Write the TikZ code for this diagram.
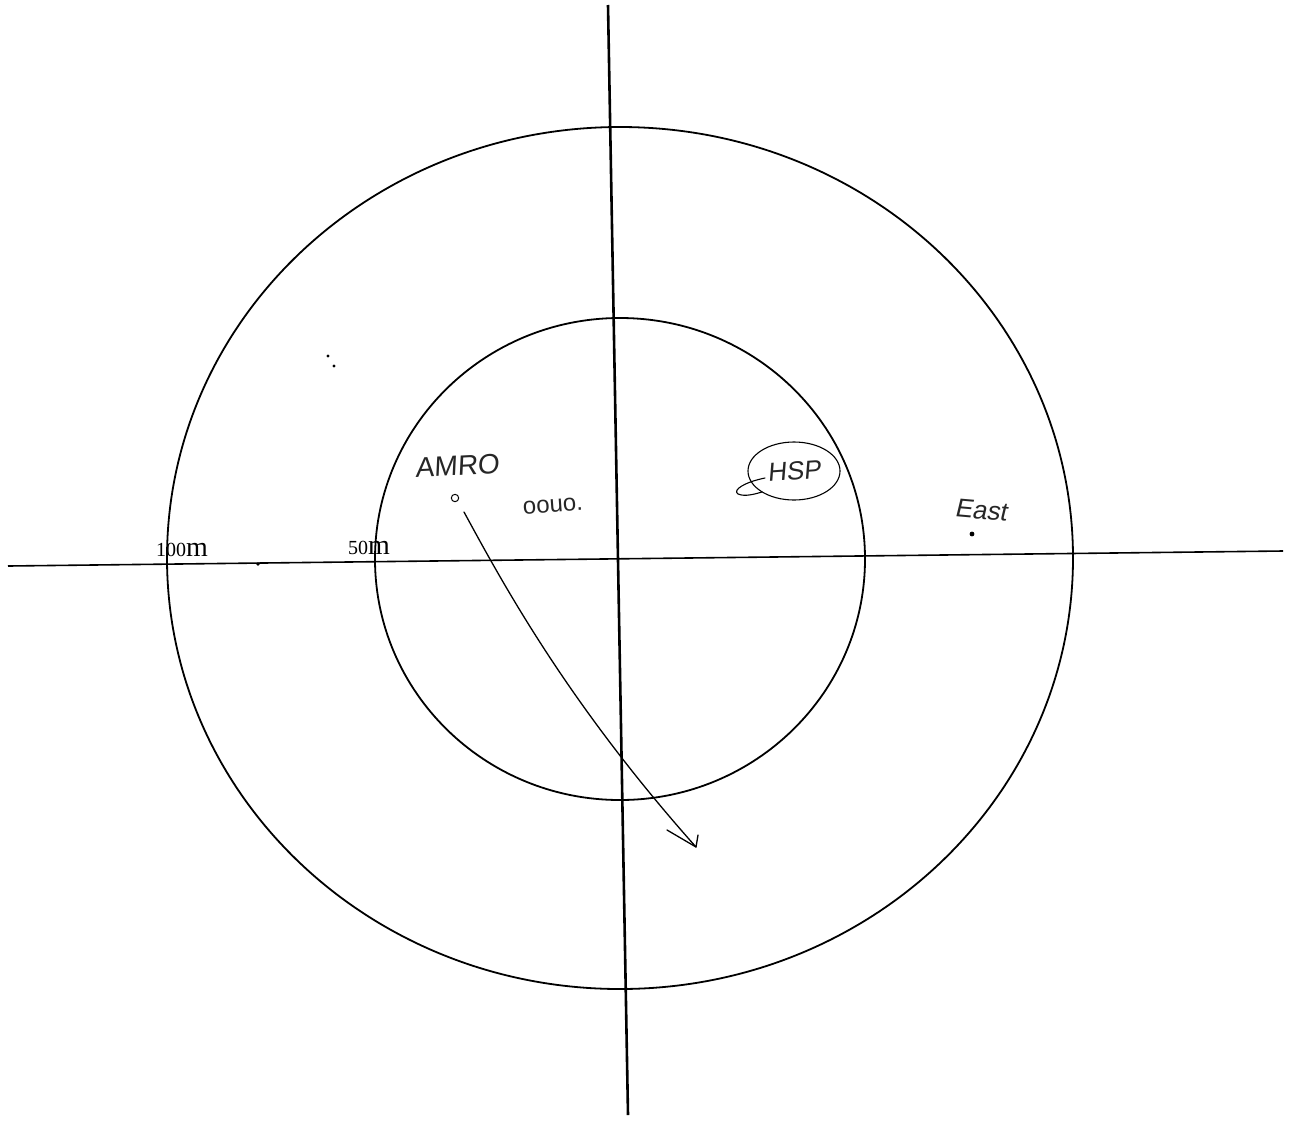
\documentclass[tikz,border=0pt]{standalone}
\usepackage{fontspec}
\setmainfont{Liberation Serif}
\newfontfamily\hand{Liberation Sans}
\begin{document}
\begin{tikzpicture}[x=0.5pt,y=-0.5pt,
  ring/.style={draw=black,line width=0.9pt},
  axis/.style={draw=black,line width=0.8pt},
  scalelbl/.style={font=\fontsize{10}{12}\selectfont,inner sep=0pt},
  handlbl/.style={font=\hand\fontsize{13}{14}\selectfont\addfontfeatures{FakeSlant=0.15},inner sep=0pt,text=black!85},
  handline/.style={draw=black,line width=0.55pt,line cap=round,line join=round},
  speck/.style={circle,fill=black,inner sep=0pt,minimum size=2pt}]
\useasboundingbox (0,0) rectangle (1290,1120);
\fill[white] (0,0) rectangle (1290,1120);
% rings
\coordinate (C) at (620,558);
\draw[ring] (C) ellipse [x radius=453, y radius=431];
\draw[ring] (620,559) ellipse [x radius=245, y radius=241];
% axes
\coordinate (vtop) at (608,5);
\coordinate (vbot) at (628,1115);
\coordinate (hl) at (8,566);
\coordinate (hr) at (1283,551);
\draw[axis,line width=1.3pt] (vtop) -- (vbot);
\draw[axis] (hl) -- (hr);
% scale labels
\node[scalelbl,anchor=base] (l100) at (182,556) {100{\fontsize{14}{14}\selectfont m}};
\node[scalelbl,anchor=base] (l50) at (369,554) {50{\fontsize{14}{14}\selectfont m}};
\node[speck,minimum size=1.8pt] (tick) at (258,564) {};
% AMRO
\node[handlbl,rotate=3,font=\hand\fontsize{14}{15}\selectfont\addfontfeatures{FakeSlant=0.1}] (amro) at (457,466) {AMRO};
\node[circle,draw,line width=0.5pt,inner sep=1.3pt] (amrodot) at (455,498) {};
\node[handlbl,font=\hand\fontsize{12}{13}\selectfont,rotate=4] (oouo) at (553,506) {oouo.};
% HSP
\node[handlbl,rotate=4] (hsp) at (794,471) {HSP};
\draw[handline] (hsp) ellipse [x radius=46, y radius=29];
\draw[handline] (765,478) .. controls (745,482) and (732,490) .. (738,494) .. controls (745,497) and (755,494) .. (762,492);
% East
\node[handlbl,rotate=-5] (east) at (981,510) {East};
\node[speck,minimum size=2.4pt] (eastdot) at (972,534) {};
% specks
\node[speck,minimum size=1.6pt] (s1) at (328,356) {};
\node[speck,minimum size=1.6pt] (s2) at (334,366) {};
% arrow
\coordinate (a0) at (464,512);
\coordinate (tip) at (696,847);
\coordinate (barbL) at (667,830);
\coordinate (barbR) at (698,835);
\draw[handline,line width=0.65pt] (a0) .. controls (500,578) and (565,700) .. (tip);
\draw[handline,line width=0.65pt] (barbL) -- (tip) -- (barbR);
\end{tikzpicture}
\end{document}
